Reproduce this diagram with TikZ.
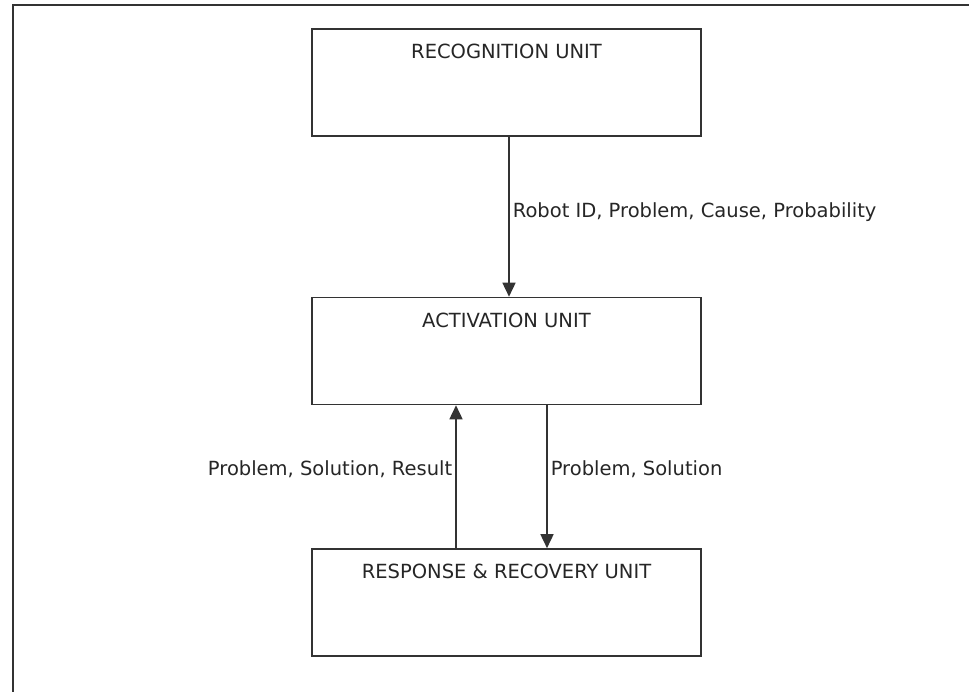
\documentclass[tikz,border=0pt]{standalone}
\usepackage{fontspec}
\setmainfont{DejaVu Sans}
\usetikzlibrary{arrows.meta}

\begin{document}
\begin{tikzpicture}[
        x=1pt, y=-1pt,
        every node/.style={font=\fontsize{19.5}{23}\selectfont, text=black!85},
        unit/.style={draw=black!80, line width=1.6pt, minimum width=389pt, minimum height=107pt, inner sep=0pt},
        unitname/.style={anchor=north, inner sep=3pt, yshift=-13pt},
        flow/.style={draw=black!80, line width=1.6pt, -{Triangle[length=14pt,width=13pt]}},
        flowtext/.style={inner sep=3pt}
    ]
    \useasboundingbox (0,0) rectangle (969,692);
    \fill[white] (0,0) rectangle (969,692);
    % outer frame, cut at the right and bottom
    \draw[black!80, line width=2pt] (13,692) -- (13,5.5) -- (969,5.5);

    \node[unit, label={[unitname]north:RECOGNITION UNIT}] (recog) at (506.5,82.5) {};
    \node[unit, label={[unitname]north:ACTIVATION UNIT}] (act) at (506.5,351) {};
    \node[unit, label={[unitname]north:RESPONSE \& RECOVERY UNIT}] (resp) at (506.5,602.5) {};

    \draw[flow] ([xshift=2.5pt]recog.south) -- ([xshift=2.5pt]act.north)
        node[flowtext, right, pos=0.47] {Robot ID, Problem, Cause, Probability};
    \draw[flow] ([xshift=-50.5pt]resp.north) -- ([xshift=-50.5pt]act.south)
        node[flowtext, left, pos=0.555] {Problem, Solution, Result};
    \draw[flow] ([xshift=40.5pt]act.south) -- ([xshift=40.5pt]resp.north)
        node[flowtext, right, pos=0.445] {Problem, Solution};
\end{tikzpicture}
\end{document}
